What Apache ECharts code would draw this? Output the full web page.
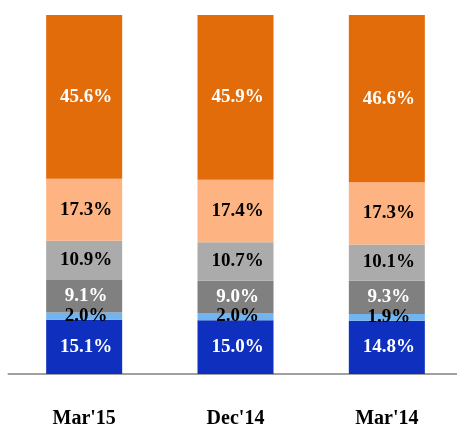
<!DOCTYPE html>
<html><head><meta charset="utf-8">
<script src="https://cdn.jsdelivr.net/npm/echarts@6/dist/echarts.min.js"></script>
<style>html,body{margin:0;padding:0;background:#fff}#c{width:457px;height:425px}</style>
</head><body><div id="c"></div>
<script>
const categories = ["Mar'15", "Dec'14", "Mar'14"];
const seg1 = [15.1, 15.0, 14.8];
const seg2 = [2.0, 2.0, 1.9];
const seg3 = [9.1, 9.0, 9.3];
const seg4 = [10.9, 10.7, 10.1];
const seg5 = [17.3, 17.4, 17.3];
const seg6 = [45.6, 45.9, 46.6];

const defs = [
  [seg1, '#0F2FBF', '#fff'],
  [seg2, '#71B4F0', '#000'],
  [seg3, '#808080', '#fff'],
  [seg4, '#ABABAB', '#000'],
  [seg5, '#FDB482', '#000'],
  [seg6, '#E36C0A', '#fff']
];
const font = '"Liberation Serif", "Times New Roman", serif';
const chart = echarts.init(document.getElementById('c'));
chart.setOption({
  animation: false,
  grid: {left: 8.5, right: -5.5, top: 15, bottom: 51, containLabel: false, outerBoundsMode: 'none'},
  xAxis: {
    type: 'category', data: categories,
    axisLine: {lineStyle: {color: '#A0A0A0', width: 2}},
    axisTick: {show: false},
    axisLabel: {fontFamily: font, fontWeight: 'bold', fontSize: 20, color: '#000', margin: 35}
  },
  yAxis: {type: 'value', min: 0, max: 100, show: false, splitLine: {show: false}},
  series: defs.map(([d, c, tc]) => ({
    type: 'bar', stack: 's', data: d, barWidth: 76,
    itemStyle: {color: c},
    label: {show: true, position: 'inside', offset: [2, 0], formatter: p => p.value.toFixed(1) + '%',
      fontFamily: font, fontWeight: 'bold', fontSize: 19, color: tc}
  }))
});
</script></body></html>
